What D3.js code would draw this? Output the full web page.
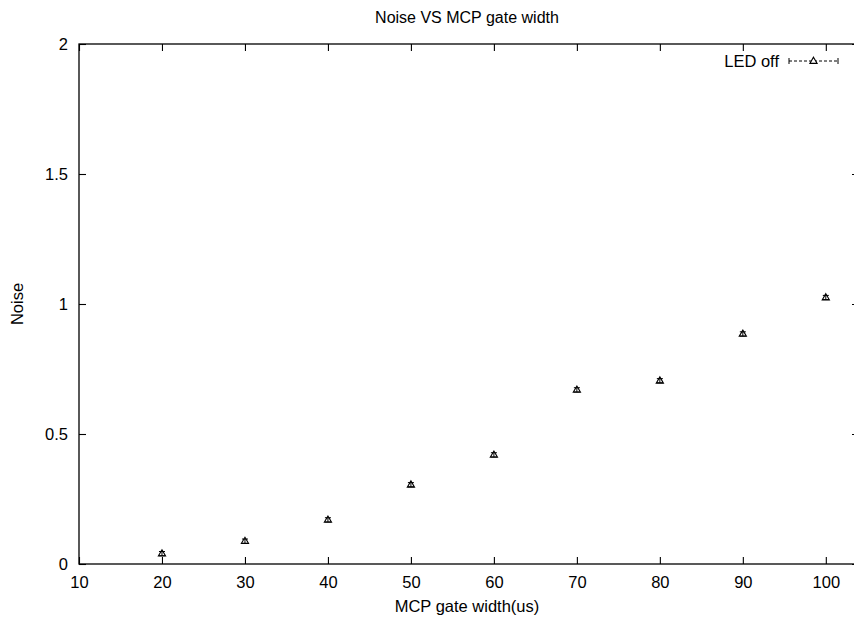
<!DOCTYPE html>
<html>
<head>
<meta charset="utf-8">
<script src="https://cdn.jsdelivr.net/npm/d3@7"></script>
<style>
  html, body { margin: 0; padding: 0; background: #fff; }
  svg { display: block; font-family: "Liberation Sans", Arial, sans-serif; }
</style>
</head>
<body>
<svg id="chart" width="854" height="618"></svg>
<script>
// Measured noise for each MCP gate width (LED off)
const gateWidths = [20, 30, 40, 50, 60, 70, 80, 90, 100];
const noiseValues = [0.04, 0.088, 0.17, 0.305, 0.42, 0.67, 0.705, 0.885, 1.025];
const noiseErrors = [0.008, 0.008, 0.008, 0.008, 0.008, 0.008, 0.008, 0.008, 0.008];
const xTicks = [10, 20, 30, 40, 50, 60, 70, 80, 90, 100];
const yTicks = [0, 0.5, 1, 1.5, 2];
const yTickLabels = ["0", "0.5", "1", "1.5", "2"];
const seriesName = "LED off";

const svg = d3.select("#chart");
const margin = { left: 79, top: 44, right: 859, bottom: 564 };

const x = d3.scaleLinear().domain([10, 104]).range([margin.left, margin.right]);
const y = d3.scaleLinear().domain([0, 2]).range([margin.bottom, margin.top]);

const fontSize = 16.5;
const titleSize = 16;
const tickLen = 7;

// frame
svg.append("rect")
  .attr("x", margin.left).attr("y", margin.top)
  .attr("width", margin.right - margin.left)
  .attr("height", margin.bottom - margin.top)
  .attr("fill", "none").attr("stroke", "#000").attr("stroke-width", 1.3);

// bottom axis with labels, mirrored ticks on top
const xAxis = d3.axisBottom(x).tickValues(xTicks).tickSizeInner(-tickLen).tickSizeOuter(0).tickPadding(12);
const gx = svg.append("g").attr("transform", `translate(0,${margin.bottom})`).call(xAxis);
const xTop = d3.axisTop(x).tickValues(xTicks).tickSizeInner(-tickLen).tickSizeOuter(0).tickFormat("");
const gxt = svg.append("g").attr("transform", `translate(0,${margin.top})`).call(xTop);

// left axis with labels, mirrored ticks on right
const yAxis = d3.axisLeft(y).tickValues(yTicks).tickSizeInner(-tickLen).tickSizeOuter(0).tickPadding(11)
  .tickFormat((d, i) => yTickLabels[i]);
const gy = svg.append("g").attr("transform", `translate(${margin.left},0)`).call(yAxis);
const yRight = d3.axisRight(y).tickValues(yTicks).tickSizeInner(-tickLen).tickSizeOuter(0).tickFormat("");
const gyr = svg.append("g").attr("transform", `translate(${margin.right},0)`).call(yRight);

[gx, gxt, gy, gyr].forEach(g => {
  g.select(".domain").remove();
  g.selectAll(".tick line").attr("stroke", "#000").attr("stroke-width", 1.1);
  g.selectAll(".tick text").attr("font-size", fontSize).attr("font-family", "Liberation Sans, Arial, sans-serif").attr("fill", "#000");
});
gx.selectAll(".tick text").attr("dy", "0.71em");

// titles
svg.append("text")
  .attr("x", (margin.left + margin.right) / 2 - 2).attr("y", 23)
  .attr("text-anchor", "middle").attr("font-size", titleSize)
  .text("Noise VS MCP gate width");
svg.append("text")
  .attr("x", (margin.left + margin.right) / 2 - 2).attr("y", 612)
  .attr("text-anchor", "middle").attr("font-size", fontSize)
  .text("MCP gate width(us)");
svg.append("text")
  .attr("transform", `translate(23,${(margin.top + margin.bottom) / 2}) rotate(-90)`)
  .attr("text-anchor", "middle").attr("font-size", fontSize)
  .text("Noise");

// open triangle marker centred on (0,0)
const tri = "M0,-3.8 L3.6,2.4 L-3.6,2.4 Z";

const data = gateWidths.map((w, i) => ({ w, v: noiseValues[i], e: noiseErrors[i] }));
const pts = svg.append("g");

// error bars
const cap = 3;
data.forEach(d => {
  const g = pts.append("g").attr("stroke", "#000").attr("stroke-width", 1);
  const cx = x(d.w), y0 = y(d.v - d.e), y1 = y(d.v + d.e);
  g.append("line").attr("x1", cx).attr("x2", cx).attr("y1", y0).attr("y2", y1);
  g.append("line").attr("x1", cx - cap).attr("x2", cx + cap).attr("y1", y0).attr("y2", y0);
  g.append("line").attr("x1", cx - cap).attr("x2", cx + cap).attr("y1", y1).attr("y2", y1);
});

pts.selectAll("path.pt").data(data).join("path")
  .attr("class", "pt")
  .attr("d", tri)
  .attr("transform", d => `translate(${x(d.w)},${y(d.v)})`)
  .attr("fill", "none").attr("stroke", "#000").attr("stroke-width", 1.1);

// legend
const ly = 61;
const lx0 = 789, lx1 = 838, lxm = (lx0 + lx1) / 2;
svg.append("text").attr("x", 779).attr("y", ly + 6)
  .attr("text-anchor", "end").attr("font-size", fontSize).text(seriesName);
const lg = svg.append("g").attr("stroke", "#000").attr("stroke-width", 1);
lg.append("line").attr("x1", lx0).attr("x2", lx1).attr("y1", ly).attr("y2", ly).attr("stroke-dasharray", "3,2");
lg.append("line").attr("x1", lx0).attr("x2", lx0).attr("y1", ly - 3).attr("y2", ly + 3);
lg.append("line").attr("x1", lx1).attr("x2", lx1).attr("y1", ly - 3).attr("y2", ly + 3);
svg.append("path").attr("d", tri).attr("transform", `translate(${lxm},${ly})`)
  .attr("fill", "#fff").attr("stroke", "#000").attr("stroke-width", 1.1);
</script>
</body>
</html>
